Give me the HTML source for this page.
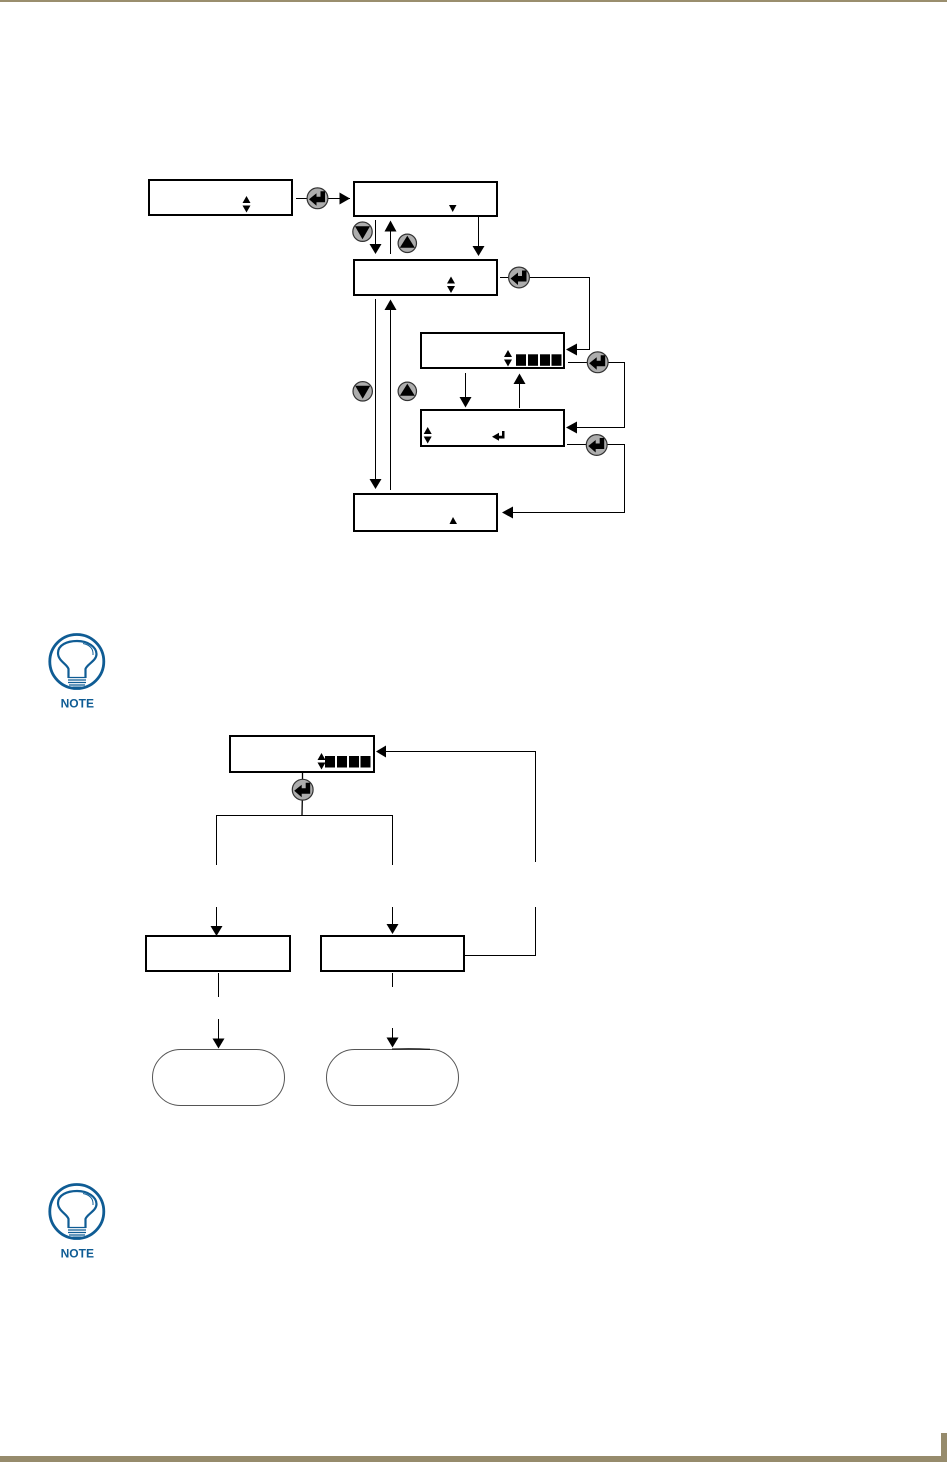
<!DOCTYPE html>
<html>
<head>
<meta charset="utf-8">
<style>
html,body{margin:0;padding:0;background:#fff;}
body{width:947px;height:1462px;overflow:hidden;position:relative;}
svg{position:absolute;left:0;top:0;}
</style>
</head>
<body>
<svg width="947" height="1462" viewBox="0 0 947 1462" xmlns="http://www.w3.org/2000/svg">
<defs>
<g id="enter">
  <circle cx="0" cy="0" r="10.400" fill="#adadad" stroke="#333" stroke-width="1.200"/>
  <path d="M-8.500 1 L-1 -5 L-1 -1.500 L3 -1.500 L3 -7 L7.500 -7 L7.500 4 L-1 4 L-1 7.500 Z" fill="#000"/>
</g>
<g id="down">
  <circle cx="0" cy="0" r="9.700" fill="#adadad" stroke="#333" stroke-width="1.200"/>
  <path d="M-7.500 -5.500 L7.500 -5.500 L0 7.500 Z" fill="#000"/>
</g>
<g id="up">
  <circle cx="0" cy="0" r="9.200" fill="#adadad" stroke="#333" stroke-width="1.200"/>
  <path d="M-7.500 4.500 L7.500 4.500 L0 -7.500 Z" fill="#000"/>
</g>
<g id="updown">
  <path d="M-4 7 L4 7 L0 0 Z M-4 9.500 L4 9.500 L0 16.500 Z" fill="#000"/>
</g>
<g id="squares">
  <rect x="0" y="0" width="10" height="11.500" fill="#000"/>
  <rect x="12" y="0" width="10" height="11.500" fill="#000"/>
  <rect x="24" y="0" width="10" height="11.500" fill="#000"/>
  <rect x="35.500" y="0" width="10" height="11.500" fill="#000"/>
</g>
<g id="note">
  <circle cx="76.800" cy="661.500" r="27" fill="none" stroke="#0f5c94" stroke-width="2.800"/>
  <path d="M68.500 678 V669 C67 664 58 661 58 653 C58 645 67 641 77 641 C88 641 96.500 647 96.500 654 C96.500 661 87 664 85.500 669 V678" fill="none" stroke="#0f5c94" stroke-width="2.200"/>
  <path d="M83 643.500 C90 645 93.500 649 93 655" fill="none" stroke="#0f5c94" stroke-width="1"/>
  <path d="M68 677.500 H86 M68 680 H86 M68 682.500 H86 M69 685 H85" stroke="#0f5c94" stroke-width="1.300" fill="none"/>
  <rect x="72.500" y="686.500" width="9" height="1.700" fill="#0f5c94"/>
  <text x="77.300" y="707.500" text-anchor="middle" font-family="'Liberation Sans',sans-serif" font-weight="bold" font-size="12" fill="#0f5c94">NOTE</text>
</g>
</defs>

<rect x="0" y="0" width="947" height="2" fill="#9a8e6e"/>
<rect x="0" y="1456" width="947" height="6" fill="#968b6c"/>
<rect x="941" y="1433" width="6" height="29" fill="#968b6c"/>

<g fill="#fff" stroke="#000" stroke-width="2">
  <rect x="149" y="180" width="143" height="35"/>
  <rect x="354" y="182" width="143" height="34"/>
  <rect x="354" y="260" width="143" height="35"/>
  <rect x="421" y="333" width="143" height="35"/>
  <rect x="421" y="410" width="143" height="36"/>
  <rect x="354" y="494" width="143" height="37"/>
  <rect x="230" y="736" width="144" height="36"/>
  <rect x="146" y="936" width="144" height="35"/>
  <rect x="321" y="936" width="143" height="35"/>
</g>

<g fill="none" stroke="#000" stroke-width="1">
  <path d="M296 198.500 H350"/>
  <path d="M375.500 220 V246"/>
  <path d="M390.500 254 V230"/>
  <path d="M478.500 217 V248"/>
  <path d="M500 277.500 H589.500 V349.500 H575"/>
  <path d="M568 362.500 H624.500 V427.500 H575"/>
  <path d="M567 444.500 H624.500 V512.500 H511"/>
  <path d="M465.500 373 V398"/>
  <path d="M519.500 408 V383"/>
  <path d="M375.500 299 V481"/>
  <path d="M390.500 490 V308"/>
  <path d="M302.500 773 V790 L302 815" stroke-width="1.300"/>
  <path d="M216.500 865 V815.500 H392.500 V865"/>
  <path d="M384 751.500 H535.500 V862"/>
  <path d="M535.500 907 V955.500 H465"/>
  <path d="M216.500 907 V928"/>
  <path d="M392.500 907 V926"/>
  <path d="M218.500 973 V997"/>
  <path d="M218.500 1019 V1040"/>
  <path d="M392.500 973 V987"/>
  <path d="M392.500 1028 V1039"/>
</g>

<g fill="#000">
  <path d="M339.500 192.500 L350 198.500 L339.500 204.500 Z"/>
  <path d="M369.500 244 L381.500 244 L375.500 254 Z"/>
  <path d="M384.500 231.500 L396.500 231.500 L390.500 220.500 Z"/>
  <path d="M472.500 246 L484.500 246 L478.500 256 Z"/>
  <path d="M566 349.500 L577 343.500 L577 355.500 Z"/>
  <path d="M566 427.500 L577 421.500 L577 433.500 Z"/>
  <path d="M502 512.500 L513 506.500 L513 518.500 Z"/>
  <path d="M459.500 397 L471.500 397 L465.500 407.500 Z"/>
  <path d="M513.500 384 L525.500 384 L519.500 373.500 Z"/>
  <path d="M369.500 479 L381.500 479 L375.500 489 Z"/>
  <path d="M384.500 310 L396.500 310 L390.500 299.500 Z"/>
  <path d="M376 751.500 L386 745.500 L386 757.500 Z"/>
  <path d="M210.500 926 L222.500 926 L216.500 936 Z"/>
  <path d="M386.500 924 L398.500 924 L392.500 934 Z"/>
  <path d="M212.500 1038.500 L224.500 1038.500 L218.500 1048.500 Z"/>
  <path d="M386.500 1037.500 L398.500 1037.500 L392.500 1047.500 Z"/>
  <path d="M449 205 L456.500 205 L452.700 212 Z"/>
  <path d="M449.500 524 L457 524 L453 517 Z"/>
  <path d="M492 436.700 L499 432.700 L499 435.700 L502 435.700 L502 431 L504.500 431 L504.500 438.500 L499 438.500 L499 440.700 Z"/>
</g>

<use href="#updown" x="246.500" y="196"/>
<use href="#updown" x="451" y="276.500"/>
<use href="#updown" x="508" y="350"/>
<use href="#updown" x="427.700" y="427"/>
<use href="#updown" x="321.500" y="753"/>
<use href="#squares" x="516" y="354.300"/>
<use href="#squares" x="325" y="756"/>

<use href="#enter" x="317.500" y="198.300"/>
<use href="#enter" x="519" y="277.500"/>
<use href="#enter" x="597.700" y="362.300"/>
<use href="#enter" x="596.700" y="445"/>
<use href="#enter" x="302.700" y="789.700"/>
<use href="#down" x="362.500" y="231.700"/>
<use href="#up" x="407.300" y="243.300"/>
<use href="#down" x="362.700" y="391.300"/>
<use href="#up" x="407.300" y="391.300"/>

<rect x="152.500" y="1049.500" width="132" height="56" rx="28" ry="28" fill="#fff" stroke="#555" stroke-width="1"/>
<rect x="326.500" y="1049.500" width="132" height="56" rx="28" ry="28" fill="#fff" stroke="#555" stroke-width="1"/>
<path d="M392 1049 C405 1048.600 418 1048.600 430 1049.300" fill="none" stroke="#000" stroke-width="1"/>

<use href="#note"/>
<use href="#note" y="550"/>
</svg>
</body>
</html>
